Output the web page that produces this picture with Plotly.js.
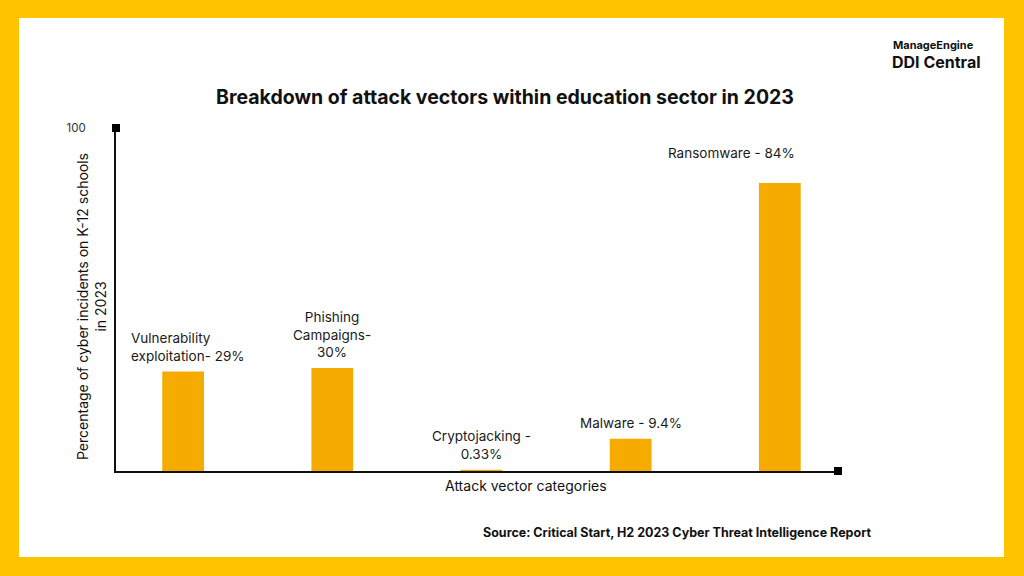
<!DOCTYPE html>
<html>
<head>
<meta charset="utf-8">
<script src="https://cdn.plot.ly/plotly-3.0.1.min.js"></script>
<style>
  html, body { margin: 0; padding: 0; background: #FFC300; width: 1024px; height: 576px; overflow: hidden; }
  #chart { position: absolute; left: 19px; top: 18px; width: 985px; height: 539px; background: #fff; }
</style>
</head>
<body>
<div id="chart"></div>
<script>
const categories = ['Vulnerability exploitation', 'Phishing Campaigns', 'Cryptojacking', 'Malware', 'Ransomware'];
const values = [29, 30, 0.33, 9.4, 84];
const labels = ['Vulnerability<br>exploitation- 29%', 'Phishing<br>Campaigns-<br>30%', 'Cryptojacking -<br>0.33%', 'Malware - 9.4%', 'Ransomware - 84%'];
const yTicks = [100];

// plot area inside the white card, in pixels
const L = 97, T = 110, W = 722, H = 343;
const fx = px => (px - L) / W;
const fy = py => (T + H - py) / H;

const font = 'Inter, Roboto, sans-serif';
const barColor = '#F5AB00';

// label tweaks, per bar
const labelStyle = {
    'Vulnerability exploitation': {align: 'left', xshift: 5},
    'Ransomware': {align: 'center', xshift: -48, yshift: 14}
};

const trace = {
    x: categories,
    y: values,
    type: 'bar',
    width: 0.28,
    marker: {color: barColor},
    hoverinfo: 'skip'
};

const annotations = categories.map((c, i) => {
    const s = labelStyle[c] || {};
    return {
        x: c, y: values[i], xref: 'x', yref: 'y',
        text: labels[i], showarrow: false,
        xanchor: 'center', yanchor: 'bottom',
        yshift: 6 + (s.yshift || 0), xshift: s.xshift || 0,
        align: s.align || 'center',
        font: {family: font, size: 13.5, color: '#1a1a1a'}
    };
});

const note = (px, py, text, size, extra) => Object.assign({
    xref: 'paper', yref: 'paper', x: fx(px), y: fy(py), text: text,
    showarrow: false, xanchor: 'center', yanchor: 'middle',
    font: {family: font, size: size, color: '#111'}
}, extra || {});

annotations.push(
    note(72, 289, 'Percentage of cyber incidents on K-12 schools<br>in 2023', 14, {textangle: -90, align: 'center'}),
    note(507, 467, 'Attack vector categories', 14),
    note(854, 514, '<b>Source: Critical Start, H2 2023 Cyber Threat Intelligence Report</b>', 12.5, {xanchor: 'right'}),
    note(872, 27, '<b>ManageEngine</b>', 11, {xanchor: 'left'}),
    note(871, 44, '<b>DDI Central</b>', 16, {xanchor: 'left'})
);

// square end caps on the axes
const cap = (xa, ya) => ({
    type: 'rect', xref: 'x domain', yref: 'y domain',
    xsizemode: 'pixel', ysizemode: 'pixel', xanchor: xa, yanchor: ya,
    x0: -4, x1: 4, y0: -4, y1: 4,
    fillcolor: '#000', line: {width: 0}
});

const layout = {
    width: 985,
    height: 539,
    paper_bgcolor: '#fff',
    plot_bgcolor: '#fff',
    margin: {l: L, r: 985 - L - W, t: T, b: 539 - T - H},
    showlegend: false,
    title: {
        text: '<b>Breakdown of attack vectors within education sector in 2023</b>',
        xref: 'container', yref: 'container', x: 486 / 985, y: 1 - 79 / 539,
        xanchor: 'center', yanchor: 'middle',
        font: {family: font, size: 19.5, color: '#111'}
    },
    xaxis: {
        range: [-0.45, 4.39],
        showticklabels: false, ticks: '',
        showgrid: false, zeroline: false,
        showline: true, linecolor: '#111', linewidth: 2
    },
    yaxis: {
        range: [0, 100],
        tickvals: yTicks, ticktext: yTicks.map(String),
        ticks: '', ticklabelstandoff: 26,
        tickfont: {family: font, size: 11.5, color: '#333'},
        showgrid: false, zeroline: false,
        showline: true, linecolor: '#111', linewidth: 2
    },
    shapes: [cap(1, 0), cap(0, 1)],
    annotations: annotations
};

Plotly.newPlot('chart', [trace], layout, {displayModeBar: false, staticPlot: true});
</script>
</body>
</html>
